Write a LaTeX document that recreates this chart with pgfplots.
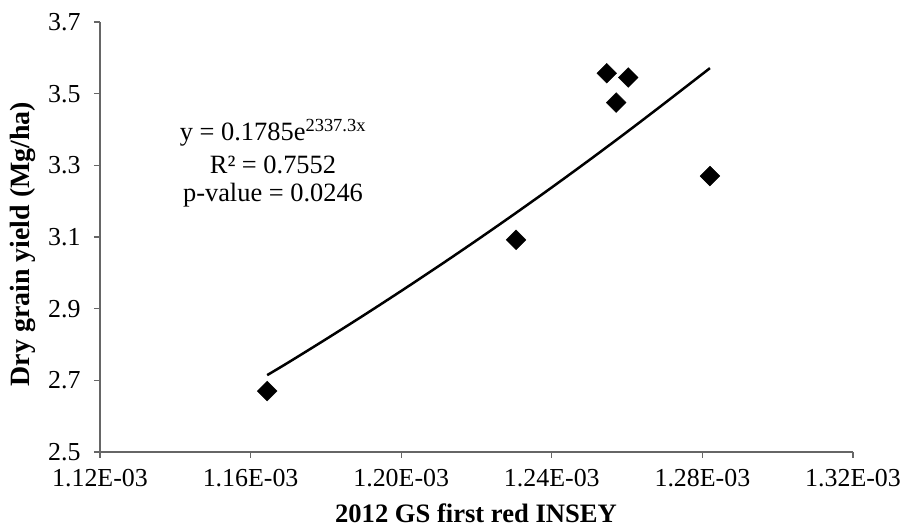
\documentclass[border=0pt]{standalone}
\usepackage{fontspec}
\setmainfont{Liberation Serif}
\usepackage{pgfplots}
\pgfplotsset{compat=1.18}
\begin{document}
\begin{tikzpicture}[x=1bp,y=1bp]
\path[use as bounding box] (-100,-79) rectangle (804,452);
\begin{axis}[
  at={(0,0)}, anchor=south west,
  scale only axis, width=753bp, height=430bp,
  xmin=1.12, xmax=1.32, ymin=2.5, ymax=3.7,
  axis x line*=bottom, axis y line*=left,
  axis line style={draw=gray!80!black, line width=1.2bp},
  tick style={draw=gray!80!black, line width=1.2bp},
  tick align=outside, major tick length=6bp,
  xtick={1.12,1.16,1.20,1.24,1.28,1.32},
  xticklabels={1.12E-03,1.16E-03,1.20E-03,1.24E-03,1.28E-03,1.32E-03},
  ytick={2.5,2.7,2.9,3.1,3.3,3.5,3.7},
  yticklabels={2.5,2.7,2.9,3.1,3.3,3.5,3.7},
  ticklabel style={font=\fontsize{26}{30}\selectfont},
  yticklabel style={xshift=-10bp},
  xticklabel style={yshift=-8bp},
  /pgf/number format/assume math mode=true,
  clip=false,
]
\addplot[only marks, mark=square*, mark size=7bp, mark options={rotate=45, fill=black, draw=black}]
coordinates {
(1.1644,2.670) (1.2305,3.092) (1.2546,3.557) (1.2603,3.545) (1.2571,3.475) (1.2820,3.270)
};
\addplot[black, line width=2.5bp, smooth] coordinates {
(1.1644,2.7145) (1.17,2.7497) (1.18,2.8147) (1.19,2.8812) (1.20,2.9494) (1.21,3.0191)
(1.22,3.0905) (1.23,3.1636) (1.24,3.2384) (1.25,3.3150) (1.26,3.3934) (1.27,3.4736) (1.2820,3.5712)
};
\end{axis}
\node[anchor=base, font=\fontsize{26.5}{30}\selectfont] at (173,311) {y = 0.1785e\textsuperscript{2337.3x}};
\node[anchor=base, font=\fontsize{26.5}{30}\selectfont] at (173,278) {R² = 0.7552};
\node[anchor=base, font=\fontsize{26.5}{30}\selectfont] at (173,250) {p-value = 0.0246};
\node[anchor=base, font=\bfseries\fontsize{26.7}{30}\selectfont] at (376,-71) {2012 GS first red INSEY};
\node[rotate=90, font=\bfseries\fontsize{28}{32}\selectfont] at (-77,208) {Dry grain yield (Mg/ha)};
\end{tikzpicture}
\end{document}
